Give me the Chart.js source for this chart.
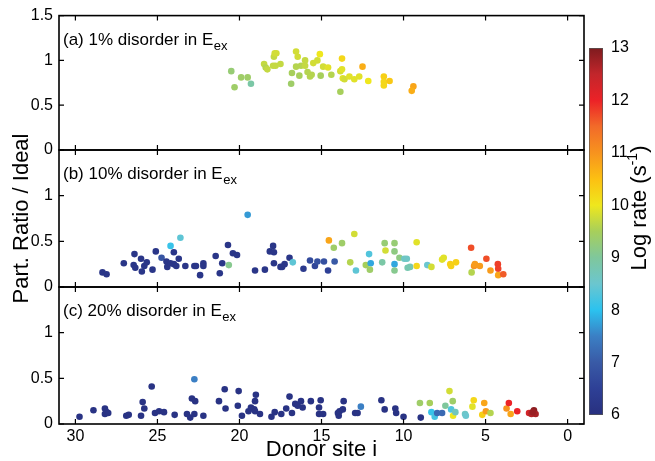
<!DOCTYPE html>
<html><head><meta charset="utf-8">
<script src="https://cdn.jsdelivr.net/npm/chart.js@4.4.0/dist/chart.umd.min.js"></script>
<style>
html,body{margin:0;padding:0;background:#fff;}
#wrap{position:relative;width:655px;height:461px;background:#fff;}
#wrap canvas{position:absolute;left:0;top:0;}
</style></head><body>
<div id="wrap">
<canvas id="pa" width="655" height="461"></canvas>
<canvas id="pb" width="655" height="461"></canvas>
<canvas id="pc" width="655" height="461"></canvas>
<canvas id="cb" width="655" height="461"></canvas>
</div>
<script>
// ---------- DATA ----------
const xTicks = [0, 5, 10, 15, 20, 25, 30];
const yTicks = [0, 0.5, 1, 1.5];
const cbTicks = [6, 7, 8, 9, 10, 11, 12, 13];
const panelLabels = ['(a) 1% disorder in E', '(b) 10% disorder in E', '(c) 20% disorder in E'];
const panelSub = 'ex';

const aSite = [20.5, 20.3, 19.9, 19.5, 19.3, 18.5, 18.4, 18.3, 17.9, 17.85, 17.75, 17.95, 17.8, 17.5, 16.85, 16.8, 16.55, 16.45, 16.55, 16.35, 16.25, 16.0, 16.0, 15.85, 15.7, 15.6, 15.5, 15.25, 15.1, 15.05, 14.9, 14.6, 14.4, 13.85, 13.75, 13.85, 13.75, 13.7, 13.6, 13.3, 13.0, 12.7, 12.5, 12.15, 11.2, 11.2, 11.2, 10.85, 9.4, 9.5];
const aRatio = [0.88, 0.70, 0.81, 0.81, 0.74, 0.96, 0.92, 0.90, 1.04, 1.08, 1.08, 0.94, 0.94, 0.96, 0.74, 0.86, 1.10, 1.04, 0.93, 0.83, 0.94, 0.94, 1.00, 0.87, 0.82, 0.84, 0.97, 1.00, 1.07, 0.83, 0.93, 0.92, 0.84, 0.65, 1.02, 0.88, 0.90, 0.80, 0.79, 0.82, 0.79, 0.82, 0.93, 0.77, 0.82, 0.76, 0.72, 0.77, 0.71, 0.66];
const aRate = [9.3, 9.4, 9.4, 9.4, 8.9, 9.7, 9.6, 9.7, 9.7, 9.8, 9.8, 9.7, 9.7, 9.7, 9.4, 9.5, 9.8, 9.8, 9.6, 9.5, 9.6, 9.7, 9.7, 9.6, 9.6, 9.6, 9.8, 9.8, 10.0, 9.5, 9.8, 9.9, 9.6, 9.5, 10.2, 9.8, 9.9, 9.9, 9.8, 9.9, 9.9, 9.9, 10.7, 10.0, 10.3, 10.2, 10.2, 10.4, 10.8, 10.7];

const bSite = [28.35, 28.1, 27.05, 26.4, 26.45, 26.35, 26.0, 25.95, 25.8, 25.65, 25.3, 25.1, 24.75, 24.2, 24.45, 24.4, 24.2, 24.0, 24.0, 23.85, 23.7, 23.6, 23.3, 22.75, 22.65, 22.4, 22.2, 22.2, 21.45, 21.2, 21.05, 20.7, 20.65, 20.4, 20.15, 19.5, 19.05, 18.45, 18.15, 17.95, 17.9, 17.9, 17.5, 17.4, 17.25, 16.95, 16.75, 16.1, 15.7, 15.4, 15.25, 14.85, 14.6, 14.2, 14.55, 14.25, 13.75, 13.25, 13.0, 12.9, 12.3, 12.1, 12.0, 12.05, 11.3, 11.15, 11.1, 10.55, 10.55, 10.55, 10.55, 10.25, 9.95, 9.8, 9.75, 9.6, 9.2, 9.2, 8.55, 8.3, 7.65, 7.55, 7.15, 7.1, 6.8, 5.88, 5.85, 5.7, 5.65, 5.35, 4.95, 4.7, 4.25, 4.23, 4.23, 3.92];
const bRatio = [0.16, 0.14, 0.26, 0.36, 0.24, 0.21, 0.31, 0.17, 0.23, 0.27, 0.19, 0.39, 0.32, 0.45, 0.28, 0.22, 0.26, 0.38, 0.25, 0.23, 0.31, 0.54, 0.23, 0.23, 0.23, 0.13, 0.26, 0.23, 0.34, 0.15, 0.26, 0.46, 0.24, 0.37, 0.35, 0.79, 0.18, 0.19, 0.39, 0.45, 0.38, 0.26, 0.22, 0.22, 0.25, 0.32, 0.27, 0.20, 0.29, 0.23, 0.28, 0.28, 0.18, 0.28, 0.51, 0.43, 0.48, 0.27, 0.58, 0.18, 0.24, 0.36, 0.26, 0.19, 0.27, 0.48, 0.40, 0.48, 0.39, 0.25, 0.18, 0.32, 0.31, 0.31, 0.21, 0.22, 0.49, 0.23, 0.24, 0.22, 0.30, 0.32, 0.25, 0.23, 0.27, 0.43, 0.16, 0.23, 0.25, 0.23, 0.31, 0.18, 0.25, 0.20, 0.13, 0.14];
const bRate = [6.2, 6.2, 6.2, 6.2, 6.2, 6.2, 6.2, 6.2, 6.2, 6.2, 6.2, 6.2, 6.9, 8.1, 6.2, 6.2, 6.2, 6.2, 6.2, 6.2, 6.2, 8.4, 6.2, 6.2, 6.2, 6.2, 6.2, 6.2, 6.2, 6.2, 6.2, 6.2, 9.1, 6.2, 6.2, 7.7, 6.2, 6.2, 6.2, 6.2, 6.2, 6.2, 6.2, 6.2, 6.2, 6.2, 8.4, 6.3, 6.7, 6.6, 6.8, 6.8, 6.5, 7.0, 10.8, 9.4, 9.4, 9.6, 9.8, 8.4, 9.5, 8.3, 7.8, 9.4, 8.9, 9.3, 9.8, 9.3, 9.2, 7.8, 9.1, 9.2, 8.6, 8.6, 8.8, 8.8, 9.9, 10.2, 8.5, 9.8, 9.9, 9.9, 10.3, 10.3, 10.3, 11.7, 9.6, 11.0, 10.9, 10.9, 11.7, 10.9, 11.8, 11.8, 10.8, 11.6];

const cSite = [29.75, 28.9, 28.2, 28.2, 28.1, 28.0, 26.9, 26.75, 26.0, 25.9, 25.8, 25.35, 25.15, 24.9, 24.6, 23.95, 23.2, 23.0, 22.9, 22.75, 22.75, 22.7, 22.2, 21.25, 20.9, 20.85, 20.1, 20.05, 19.85, 19.45, 19.3, 19.1, 19.05, 19.0, 19.05, 18.75, 18.05, 17.85, 17.45, 17.15, 16.95, 16.8, 16.6, 16.45, 16.25, 16.15, 15.65, 15.15, 15.05, 15.15, 14.9, 14.0, 13.95, 13.9, 13.7, 13.65, 12.95, 12.8, 12.6, 11.35, 11.15, 10.5, 10.45, 10.0, 8.95, 9.0, 8.4, 8.3, 8.1, 7.95, 7.65, 7.45, 7.2, 7.1, 7.0, 6.98, 6.84, 6.25, 6.2, 5.8, 5.72, 5.2, 5.08, 4.98, 4.7, 3.72, 3.58, 3.47, 3.07, 2.35, 2.2, 2.05, 1.95, 2.12];
const cRatio = [0.08, 0.15, 0.17, 0.11, 0.13, 0.12, 0.09, 0.10, 0.09, 0.24, 0.17, 0.41, 0.12, 0.14, 0.13, 0.10, 0.11, 0.07, 0.28, 0.11, 0.49, 0.25, 0.09, 0.25, 0.38, 0.17, 0.20, 0.36, 0.09, 0.14, 0.18, 0.16, 0.25, 0.32, 0.14, 0.11, 0.08, 0.13, 0.11, 0.17, 0.30, 0.12, 0.22, 0.20, 0.25, 0.18, 0.25, 0.18, 0.26, 0.11, 0.11, 0.12, 0.09, 0.14, 0.16, 0.25, 0.12, 0.12, 0.19, 0.26, 0.16, 0.17, 0.12, 0.08, 0.07, 0.23, 0.23, 0.13, 0.08, 0.12, 0.12, 0.20, 0.36, 0.16, 0.25, 0.09, 0.13, 0.11, 0.09, 0.19, 0.26, 0.10, 0.23, 0.14, 0.12, 0.17, 0.23, 0.11, 0.14, 0.12, 0.11, 0.15, 0.11, 0.13];
const cRate = [6.1, 6.1, 6.1, 6.1, 6.1, 6.1, 6.1, 6.1, 6.1, 6.1, 6.1, 6.1, 6.1, 6.1, 6.1, 6.1, 6.1, 6.1, 6.1, 6.1, 7.5, 6.1, 6.1, 6.1, 6.1, 6.1, 6.1, 6.1, 6.1, 6.1, 6.1, 6.1, 6.1, 6.1, 6.1, 6.1, 6.1, 6.1, 6.1, 6.1, 6.1, 6.1, 6.1, 6.1, 6.1, 6.1, 6.1, 6.1, 6.1, 6.1, 6.1, 6.1, 6.1, 6.1, 6.1, 6.1, 6.1, 6.1, 7.5, 6.1, 6.1, 6.1, 6.1, 6.1, 6.1, 9.4, 9.5, 8.1, 8.2, 7.2, 7.2, 9.0, 9.8, 8.3, 9.4, 10.0, 8.7, 8.6, 8.5, 9.9, 10.2, 10.3, 10.8, 10.9, 9.6, 11.0, 12.0, 10.8, 12.0, 12.3, 12.6, 12.9, 12.7, 12.8];

// ---------- STYLE ----------
const FONT = "'Liberation Sans', Arial, Helvetica, sans-serif";
const cmapStops = [[6,'#28307f'],[6.5,'#2e4096'],[7,'#395aa6'],[7.5,'#3b7fc4'],[8,'#2bc2ef'],[8.5,'#6bc6cf'],[9,'#7fc79c'],[9.5,'#a7cf5b'],[10,'#efe71d'],[10.5,'#fcc012'],[11,'#f7931e'],[11.5,'#f26b29'],[12,'#ec2227'],[12.5,'#c2262b'],[13,'#7e1b1e']];
function hex(h){return [parseInt(h.slice(1,3),16),parseInt(h.slice(3,5),16),parseInt(h.slice(5,7),16)];}
function cmap(v){
  if (v <= cmapStops[0][0]) return cmapStops[0][1];
  for (let i = 1; i < cmapStops.length; i++) {
    if (v <= cmapStops[i][0]) {
      const [v0,c0] = cmapStops[i-1], [v1,c1] = cmapStops[i];
      const t = (v - v0) / (v1 - v0); const a = hex(c0), b = hex(c1);
      return 'rgb(' + a.map((x,k)=>Math.round(x + (b[k]-x)*t)).join(',') + ')';
    }
  }
  return cmapStops[cmapStops.length-1][1];
}

const W = 655, H = 461;
const AREA = {left: 59, right: 584};
const panels = [
  {id:'pa', site:aSite, ratio:aRatio, rate:aRate, top:12, bottom:150, label:panelLabels[0], showX:false, ytitle:false, top15:true},
  {id:'pb', site:bSite, ratio:bRatio, rate:bRate, top:150, bottom:287, label:panelLabels[1], showX:false, ytitle:true, top15:false},
  {id:'pc', site:cSite, ratio:cRatio, rate:cRate, top:287, bottom:424, label:panelLabels[2], showX:true, ytitle:false, top15:false}
];

function framePlugin(p){
  return {
    id: 'frame_' + p.id,
    afterDatasetsDraw(chart){
      const ctx = chart.ctx, a = chart.chartArea, xs = chart.scales.x, ys = chart.scales.y;
      ctx.save();
      ctx.strokeStyle = '#000'; ctx.lineWidth = 1.6;
      ctx.strokeRect(a.left, a.top, a.right - a.left, a.bottom - a.top);
      ctx.lineWidth = 1.2;
      ctx.beginPath();
      const tl = 5;
      xTicks.forEach(v => { const px = xs.getPixelForValue(v);
        ctx.moveTo(px, a.bottom); ctx.lineTo(px, a.bottom - tl);
        ctx.moveTo(px, a.top); ctx.lineTo(px, a.top + tl); });
      yTicks.forEach(v => { const py = ys.getPixelForValue(v);
        ctx.moveTo(a.left, py); ctx.lineTo(a.left + tl, py);
        ctx.moveTo(a.right, py); ctx.lineTo(a.right - tl, py); });
      ctx.stroke();
      // panel label
      ctx.fillStyle = '#000'; ctx.textBaseline = 'alphabetic'; ctx.textAlign = 'left';
      ctx.font = '17px ' + FONT;
      const x0 = 63, y0 = a.top + 29;
      ctx.fillText(p.label, x0, y0);
      const w = ctx.measureText(p.label).width;
      ctx.font = '13px ' + FONT;
      ctx.fillText(panelSub, x0 + w + 0.5, y0 + 5);
      ctx.restore();
    }
  };
}

panels.forEach(p => {
  const pts = p.site.map((s,i) => ({x: s, y: p.ratio[i]}));
  new Chart(document.getElementById(p.id), {
    type: 'scatter',
    data: { datasets: [{ data: pts, backgroundColor: p.rate.map(cmap), pointRadius: 3.3, pointBorderWidth: 0, borderWidth: 0, pointHoverRadius: 3.3 }] },
    options: {
      responsive: false, animation: false, devicePixelRatio: 1, events: [],
      layout: { padding: { left: 0, right: W - AREA.right, top: p.top, bottom: p.showX ? 0 : H - p.bottom } },
      plugins: { legend: {display:false}, tooltip: {enabled:false} },
      scales: {
        x: {
          type: 'linear', reverse: true, min: -1, max: 31, display: p.showX,
          afterBuildTicks: s => { s.ticks = xTicks.map(v => ({value: v})); },
          afterFit: s => { if (p.showX) s.height = H - p.bottom; },
          grid: { display: false, drawTicks: false }, border: { display: false },
          ticks: { color: '#000', font: { family: FONT, size: 16 }, padding: 3, maxRotation: 0, autoSkip: false,
                   callback: v => String(v) },
          title: { display: p.showX, text: 'Donor site i', color: '#000', font: { family: FONT, size: 22, lineHeight: 1 }, padding: 0 }
        },
        y: {
          type: 'linear', min: 0, max: 1.5,
          afterBuildTicks: s => { s.ticks = yTicks.map(v => ({value: v})); },
          afterFit: s => { s.width = AREA.left; },
          grid: { display: false, drawTicks: false }, border: { display: false },
          ticks: { color: '#000', font: { family: FONT, size: 16 }, padding: 6, autoSkip: false,
                   callback: v => (v === 1.5 && !p.top15) ? '' : String(v) },
          title: { display: p.ytitle, text: 'Part. Ratio / Ideal', color: '#000', font: { family: FONT, size: 22, lineHeight: 1 }, padding: { top: 11, bottom: 0 } }
        }
      }
    },
    plugins: [framePlugin(p)]
  });
});

// ---------- COLORBAR ----------
const CB = {left: 589, right: 603, top: 48, bottom: 415, axisW: 52};
const cbMin = cbTicks[0], cbMax = cbTicks[cbTicks.length - 1];
const cbTitlePlugin = {
  id: 'cbtitle',
  afterDraw(chart){
    const ctx = chart.ctx;
    ctx.save();
    ctx.translate(640, 208);
    ctx.rotate(-Math.PI/2);
    ctx.fillStyle = '#000'; ctx.textBaseline = 'middle'; ctx.textAlign = 'left';
    const big = '22px ' + FONT, small = '14px ' + FONT;
    const t1 = 'Log rate (s', t2 = '-1', t3 = ')';
    ctx.font = big; const w1 = ctx.measureText(t1).width, w3 = ctx.measureText(t3).width;
    ctx.font = small; const w2 = ctx.measureText(t2).width;
    let x = -(w1 + w2 + w3) / 2;
    ctx.font = big; ctx.fillText(t1, x, 0); x += w1;
    ctx.font = small; ctx.fillText(t2, x, -7); x += w2;
    ctx.font = big; ctx.fillText(t3, x, 0);
    ctx.restore();
  }
};
new Chart(document.getElementById('cb'), {
  type: 'bar',
  data: { labels: ['rate'], datasets: [{
    data: [[cbMin, cbMax]],
    backgroundColor: (c) => {
      const ch = c.chart; if (!ch.chartArea) return '#888';
      const ys = ch.scales.y;
      const y0 = ys.getPixelForValue(cbMin), y1 = ys.getPixelForValue(cbMax);
      const g = ch.ctx.createLinearGradient(0, y0, 0, y1);
      cmapStops.forEach(([v, col]) => g.addColorStop((v - cbMin) / (cbMax - cbMin), col));
      return g;
    },
    borderColor: '#555', borderWidth: 1, borderSkipped: false,
    barPercentage: 1, categoryPercentage: 1
  }] },
  options: {
    responsive: false, animation: false, devicePixelRatio: 1, events: [],
    layout: { padding: { left: CB.left, right: W - CB.right - CB.axisW, top: CB.top, bottom: H - CB.bottom } },
    plugins: { legend: {display:false}, tooltip: {enabled:false} },
    scales: {
      x: { type: 'category', display: false },
      y: { position: 'right', min: cbMin, max: cbMax,
           afterBuildTicks: s => { s.ticks = cbTicks.map(v => ({value: v})); },
           afterFit: s => { s.width = CB.axisW; },
           grid: { display: false, drawTicks: false }, border: { display: false },
           ticks: { color: '#000', font: { family: FONT, size: 16 }, padding: 8, callback: v => String(v) } }
    }
  },
  plugins: [cbTitlePlugin]
});
</script>
</body></html>
